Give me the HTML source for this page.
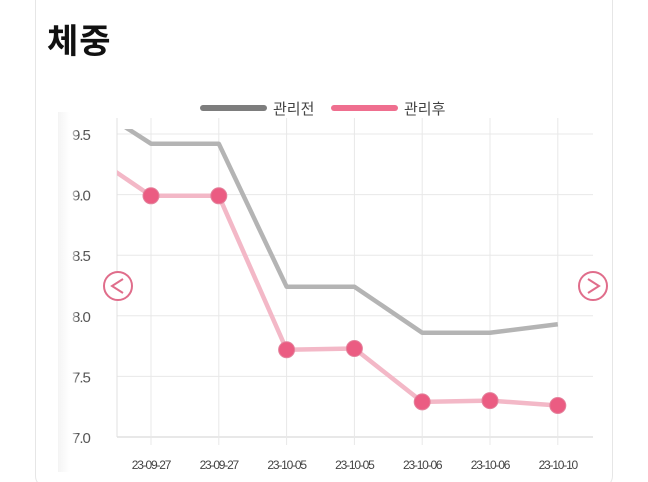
<!DOCTYPE html>
<html style="width:648px;height:482px;overflow:hidden"><head><meta charset="utf-8"><style>
html,body{margin:0;width:648px;height:482px;background:#fff;overflow:hidden;font-family:"Liberation Sans","Noto Sans CJK KR",sans-serif;position:relative}
#card{position:absolute;left:35px;top:-12px;width:578px;height:500px;border:1px solid #e6e6e6;border-radius:12px;box-sizing:border-box}
#title{position:absolute;left:47px;top:14px;font-size:34px;font-weight:bold;color:#111;letter-spacing:1px}
</style></head><body>
<div id="card"></div>
<div id="title">체중</div>
<svg id="chart" width="648" height="482" style="position:absolute;left:0;top:0">
<defs>
<clipPath id="plotclip"><rect x="117" y="129" width="476" height="314"/></clipPath>
<linearGradient id="fade" x1="0" x2="1"><stop offset="0" stop-color="#f4f4f4"/><stop offset="0.6" stop-color="#fff" stop-opacity="0.9"/><stop offset="1" stop-color="#fff" stop-opacity="0"/></linearGradient>
</defs>
<g id="grid"></g><g id="series" clip-path="url(#plotclip)"></g><g id="marks"></g><g id="labels"></g>
<rect x="58" y="112" width="20" height="360" fill="url(#fade)"/>
<g>
<rect x="200" y="105" width="67" height="6" rx="3" fill="#7d7d7d"/>
<text x="273" y="114" font-size="15" fill="#444">관리전</text>
<rect x="331" y="105" width="67" height="6" rx="3" fill="#ef6f8f"/>
<text x="404" y="114" font-size="15" fill="#444">관리후</text>
</g>
<g><circle cx="118" cy="286" r="14" fill="#fff" stroke="#e06d8b" stroke-width="2"/><path d="M123 279 L112 286 L123 293" fill="none" stroke="#e06d8b" stroke-width="2"/></g>
<g><circle cx="593" cy="286" r="14" fill="#fff" stroke="#e06d8b" stroke-width="2"/><path d="M588 279 L599 286 L588 293" fill="none" stroke="#e06d8b" stroke-width="2"/></g>
</svg>
<script>
const categories=["","23-09-27","23-09-27","23-10-05","23-10-05","23-10-06","23-10-06","23-10-10"];
const beforeValues=[9.78,9.42,9.42,8.24,8.24,7.86,7.86,7.93];
const afterValues=[9.37,8.99,8.99,7.72,7.73,7.29,7.30,7.26];
const yTicks=[7.0,7.5,8.0,8.5,9.0,9.5];
const yTickLabels=["7.0","7.5","8.0","8.5","9.0","9.5"];
const NS="http://www.w3.org/2000/svg";
function x(i){return 151+(i-1)*67.8;}
function y(v){return 437-(v-7.0)*121.2;}
function mk(t,a,p){const e=document.createElementNS(NS,t);for(const k in a)e.setAttribute(k,a[k]);p.appendChild(e);return e;}
const grid=document.getElementById('grid'),labels=document.getElementById('labels'),series=document.getElementById('series'),marks=document.getElementById('marks');
yTicks.forEach((v,i)=>{
 const l=mk('line',{x1:117,x2:593,y1:y(v),y2:y(v),stroke:i==0?'#d0d0d0':'#e8e8e8','stroke-width':1},grid);
 
 
 const t=mk('text',{x:72,y:y(v)+6,'font-size':15,fill:'#555','letter-spacing':'-1'},labels);
 t.textContent=yTickLabels[i];
 
 
});
for(let i=1;i<categories.length;i++){
 const l=mk('line',{x1:x(i),x2:x(i),y1:118,y2:445,stroke:'#e8e8e8','stroke-width':1},grid);
 
 
 const t=mk('text',{x:x(i),y:469,'font-size':12,fill:'#444','text-anchor':'middle','letter-spacing':'-1.2'},labels);
 t.textContent=categories[i];
 
 
}
mk('line',{x1:117,x2:117,y1:118,y2:437,stroke:'#e0e0e0'},grid);
function path(vals){return vals.map((v,i)=>(i?'L':'M')+x(i)+' '+y(v)).join(' ');}
const pb=mk('path',{d:path(beforeValues),fill:'none',stroke:'#b4b4b4','stroke-width':4.5,'stroke-linejoin':'round'},series);


const pa=mk('path',{d:path(afterValues),fill:'none',stroke:'#f3b8c7','stroke-width':4.5,'stroke-linejoin':'round'},series);


afterValues.forEach((v,i)=>{if(i==0)return;
 const c=mk('circle',{cx:x(i),cy:y(v),r:8,fill:'#eb5c82',stroke:'#e3829c','stroke-width':1},marks);
 
 
});
</script>
</body></html>
